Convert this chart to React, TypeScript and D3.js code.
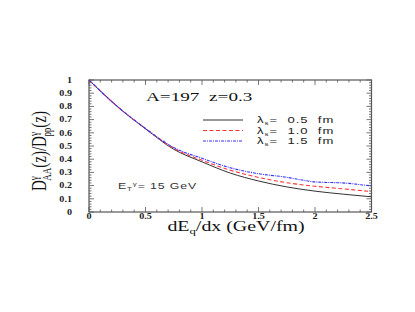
import React from 'react';
import * as d3 from 'd3';

// dE_q/dx sampling points
const xVals = [0, 0.25, 0.5, 0.75, 1, 1.25, 1.5, 1.75, 2, 2.25, 2.5];
// lambda_s = 0.5 fm
const ratio05 = [1, 0.8, 0.63, 0.475, 0.38, 0.295, 0.235, 0.19, 0.158, 0.135, 0.115];
// lambda_s = 1.0 fm
const ratio10 = [1, 0.8, 0.632, 0.482, 0.392, 0.317, 0.262, 0.222, 0.195, 0.175, 0.155];
// lambda_s = 1.5 fm (a bit bumpy near 2)
const xValsBlue = [0, 0.25, 0.5, 0.75, 1, 1.25, 1.5, 1.75, 1.9, 2, 2.1, 2.2, 2.3, 2.4, 2.5];
const ratio15 = [1, 0.8, 0.633, 0.488, 0.407, 0.335, 0.29, 0.263, 0.24, 0.228, 0.224, 0.222, 0.217, 0.207, 0.198];

const xTicks = [0, 0.5, 1, 1.5, 2, 2.5];
const xTickLabels = ['0', '0.5', '1', '1.5', '2', '2.5'];
const yTicks = [0, 0.1, 0.2, 0.3, 0.4, 0.5, 0.6, 0.7, 0.8, 0.9, 1];
const yTickLabels = ['0', '0.1', '0.2', '0.3', '0.4', '0.5', '0.6', '0.7', '0.8', '0.9', '1'];
const legendLabels = ['0.5', '1.0', '1.5'];

const W = 415;
const H = 312;
const frame = { left: 89, right: 371.5, top: 80, bottom: 212 };
const serif = '"Liberation Serif", "DejaVu Serif", serif';
const sans = '"Liberation Sans", Arial, sans-serif';
const axisColor = '#555';

const series = [
  { xs: xVals, ys: ratio05, color: '#333', dash: undefined, width: 1 },
  { xs: xVals, ys: ratio10, color: '#ff3333', dash: '4,2.5', width: 1.1 },
  { xs: xValsBlue, ys: ratio15, color: '#3333ff', dash: '3,1,1,1', width: 1.1 },
];

export default function App() {
  const x = d3.scaleLinear().domain([0, 2.5]).range([frame.left, frame.right]);
  const y = d3.scaleLinear().domain([0, 1]).range([frame.bottom, frame.top]);

  const line = (xs: number[], ys: number[]) =>
    d3
      .line<number>()
      .x((_, i) => x(xs[i]))
      .y((d) => y(d))
      .curve(d3.curveMonotoneX)(ys) || '';

  const xMinor = d3.range(0, 2.5001, 0.1);
  const yMinor = d3.range(0, 1.0001, 0.02);

  return (
    <svg
      width={W}
      height={H}
      style={{ position: 'absolute', left: 0, top: 0, background: '#fff' }}
    >
      <rect width={W} height={H} fill="#fff" />

      {/* ticks, drawn inside on all four sides */}
      <g stroke={axisColor} strokeWidth={0.8}>
        {xMinor.map((v, i) => {
          const major = Math.abs(v * 2 - Math.round(v * 2)) < 1e-6;
          const len = major ? 5 : 2.5;
          return (
            <g key={'xm' + i}>
              <line x1={x(v)} x2={x(v)} y1={frame.bottom} y2={frame.bottom - len} />
              <line x1={x(v)} x2={x(v)} y1={frame.top} y2={frame.top + len} />
            </g>
          );
        })}
        {yMinor.map((v, i) => {
          const major = Math.abs(v * 10 - Math.round(v * 10)) < 1e-6;
          const len = major ? 5 : 2.5;
          return (
            <g key={'ym' + i}>
              <line x1={frame.left} x2={frame.left + len} y1={y(v)} y2={y(v)} />
              <line x1={frame.right} x2={frame.right - len} y1={y(v)} y2={y(v)} />
            </g>
          );
        })}
      </g>

      {/* curves */}
      {series.map((s, i) => (
        <path
          key={'s' + i}
          d={line(s.xs, s.ys)}
          fill="none"
          stroke={s.color}
          strokeWidth={s.width}
          strokeDasharray={s.dash}
        />
      ))}

      <rect
        x={frame.left}
        y={frame.top}
        width={frame.right - frame.left}
        height={frame.bottom - frame.top}
        fill="none"
        stroke={axisColor}
        strokeWidth={1.2}
      />

      {/* tick labels */}
      {yTicks.map((v, i) => (
        <text
          key={'yl' + i}
          transform={`translate(72,${y(v) + 2.8}) scale(1.35,1)`}
          textAnchor="end"
          fontFamily={serif}
          fontWeight="bold"
          fontSize={7.5}
          fill="#222"
        >
          {yTickLabels[i]}
        </text>
      ))}
      {xTicks.map((v, i) => (
        <text
          key={'xl' + i}
          transform={`translate(${x(v)},218.5) scale(1.35,1)`}
          textAnchor="middle"
          fontFamily={serif}
          fontWeight="bold"
          fontSize={7.5}
          fill="#222"
        >
          {xTickLabels[i]}
        </text>
      ))}

      {/* axis titles */}
      <text
        transform="translate(236,231) scale(1.42,1)"
        textAnchor="middle"
        fontFamily={serif}
        fontSize={14}
        fill="#111"
      >
        dE
        <tspan fontSize={9} dy={3}>q</tspan>
        <tspan dy={-3}>/dx (GeV/fm)</tspan>
      </text>
      <text
        transform="translate(46,151) scale(1.35,1) rotate(-90)"
        textAnchor="middle"
        fontFamily={serif}
        fontSize={15}
        fill="#111"
      >
        D
        <tspan fontSize={9} dy={-6}>γ</tspan>
        <tspan fontSize={9} dx={-4.5} dy={10}>AA</tspan>
        <tspan dy={-4}>(z)/D</tspan>
        <tspan fontSize={9} dy={-6}>γ</tspan>
        <tspan fontSize={9} dx={-4.5} dy={10}>pp</tspan>
        <tspan dy={-4}>(z)</tspan>
      </text>

      {/* annotations */}
      <text
        transform="translate(146,101) scale(1.6,1)"
        fontFamily={serif}
        fontSize={12}
        fill="#111"
        style={{ whiteSpace: 'pre' }}
      >
        {'A=197  z=0.3'}
      </text>
      <text
        transform="translate(118,189) scale(1.45,1)"
        fontFamily={sans}
        fontSize={8.5}
        fill="#333"
        letterSpacing={0.6}
      >
        E
        <tspan fontSize={5.5} dy={2}>T</tspan>
        <tspan fontSize={5.5} dy={-5}>γ</tspan>
        <tspan dy={3}>= 15 GeV</tspan>
      </text>

      {/* legend */}
      {series.map((s, i) => {
        const ly = 120 + i * 10.5;
        return (
          <g key={'lg' + i}>
            <line
              x1={203}
              x2={243}
              y1={ly}
              y2={ly}
              stroke={s.color}
              strokeWidth={s.width}
              strokeDasharray={s.dash}
            />
            <text
              transform={`translate(257,${ly + 3.2}) scale(1.45,1)`}
              fontFamily={sans}
              fontSize={9}
              fill="#222"
              letterSpacing={0.7}
              style={{ whiteSpace: 'pre' }}
            >
              λ
              <tspan fontSize={5.5} dy={2}>s</tspan>
              <tspan dy={-2}>{`=  ${legendLabels[i]}  fm`}</tspan>
            </text>
          </g>
        );
      })}
    </svg>
  );
}
